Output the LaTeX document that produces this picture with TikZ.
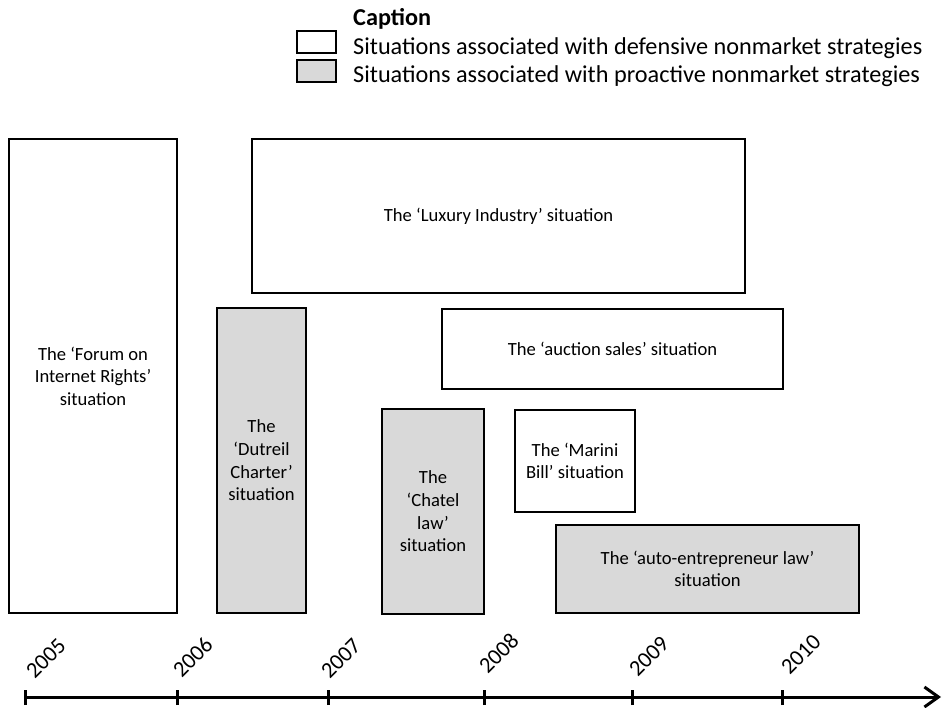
\documentclass[tikz,border=0pt]{standalone}
\usepackage{fontspec}
\setmainfont{Carlito}
\usetikzlibrary{arrows.meta}
\definecolor{boxgray}{HTML}{D9D9D9}
\begin{document}
\begin{tikzpicture}[x=1pt,y=-1pt,
  sit/.style={draw=black, line width=2pt, fill=white, align=center, inner sep=0pt,
    font=\fontsize{18.6}{22.6}\selectfont},
  pro/.style={sit, fill=boxgray},
  legbox/.style={draw=black, line width=2.4pt, inner sep=0pt, minimum width=39pt, minimum height=22pt},
  legtxt/.style={anchor=base west, inner sep=0pt, font=\fontsize{24.25}{28}\selectfont},
  year/.style={anchor=south west, rotate=45, inner sep=0pt, font=\fontsize{22.5}{26}\selectfont},
  axisline/.style={line width=3pt},
  tickmark/.style={line width=3pt},
]
\useasboundingbox (0,0) rectangle (944,708);

% caption
\node[legtxt, font=\fontsize{24.25}{28}\selectfont\bfseries] (captitle) at (353,26) {Caption};
\node[legbox, fill=white] (legdef) at (316.5,42) {};
\node[legtxt] (legdeftxt) at (353,55) {Situations associated with defensive nonmarket strategies};
\node[legbox, fill=boxgray] (legpro) at (316.5,71) {};
\node[legtxt] (legprotxt) at (353,83) {Situations associated with proactive nonmarket strategies};

% situations
\node[sit, minimum width=168pt, minimum height=474pt] (forum) at (93,376)
  {The ‘Forum on\\Internet Rights’\\situation};
\node[sit, minimum width=493pt, minimum height=154pt] (luxury) at (498.5,216)
  {The ‘Luxury Industry’ situation};
\node[pro, minimum width=89pt, minimum height=305pt] (dutreil) at (261.5,460.5)
  {The\\‘Dutreil\\Charter’\\situation};
\node[sit, minimum width=341pt, minimum height=80pt] (auction) at (612.5,349)
  {The ‘auction sales’ situation};
\node[pro, minimum width=102pt, minimum height=205pt] (chatel) at (433,511.5)
  {The\\‘Chatel\\law’\\situation};
\node[sit, minimum width=120pt, minimum height=102pt] (marini) at (575,461)
  {The ‘Marini\\Bill’ situation};
\node[pro, minimum width=303pt, minimum height=88pt] (auto) at (707.5,569)
  {The ‘auto-entrepreneur law’\\situation};

% axis
\coordinate (t0) at (25,697);
\coordinate (t1) at (177,697);
\coordinate (t2) at (328,697);
\coordinate (t3) at (484,697);
\coordinate (t4) at (632,697);
\coordinate (t5) at (782,697);
\coordinate (axend) at (941,697);
\draw[axisline, -{Straight Barb[length=14pt,width=20pt,line width=3pt]}] (t0) -- (axend);
\foreach \t in {t0,t1,t2,t3,t4,t5}{
  \draw[tickmark] ([yshift=-8pt]\t) -- ([yshift=7pt]\t);
}
\node[year] (y2005) at (35,680) {2005};
\node[year] (y2006) at (182,679) {2006};
\node[year] (y2007) at (330,680) {2007};
\node[year] (y2008) at (488,675) {2008};
\node[year] (y2009) at (638,678) {2009};
\node[year] (y2010) at (790,676) {2010};
\end{tikzpicture}
\end{document}
